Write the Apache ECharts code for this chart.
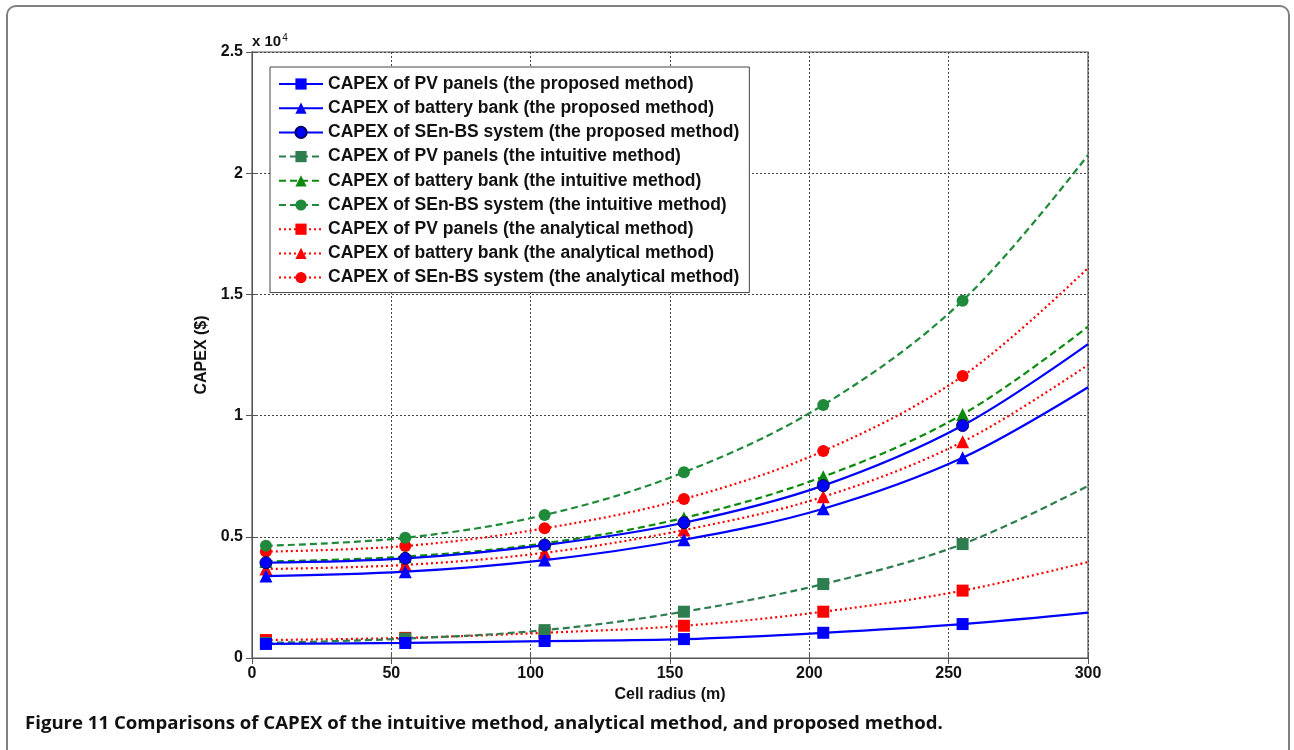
<!DOCTYPE html>
<html>
<head>
<meta charset="utf-8">
<script src="https://cdn.jsdelivr.net/npm/echarts@6/dist/echarts.min.js"></script>
<style>
html,body{margin:0;padding:0;background:#fff;}
#main{width:1294px;height:750px;}
</style>
</head>
<body>
<div id="main"></div>
<script>
var dom = document.getElementById("main");
var myChart = echarts.init(dom);

// cell radius (m)
var radius = [5, 55, 105, 155, 205, 255, 300];

// CAPEX ($)
var pvProposed = [580, 620, 700, 780, 1040, 1400, 1870];
var batProposed = [3380, 3560, 4040, 4880, 6160, 8260, 11170];
var sysProposed = [3930, 4110, 4660, 5580, 7110, 9590, 12950];
var pvIntuitive = [620, 800, 1150, 1910, 3050, 4700, 7100];
var batIntuitive = [3980, 4180, 4730, 5780, 7480, 10050, 13670];
var sysIntuitive = [4630, 4960, 5900, 7660, 10440, 14740, 20750];
var pvAnalytical = [740, 830, 1040, 1330, 1910, 2780, 3960];
var batAnalytical = [3670, 3840, 4340, 5280, 6650, 8920, 12090];
var sysAnalytical = [4390, 4620, 5350, 6560, 8540, 11630, 16090];

var names = [
    'CAPEX of PV panels (the proposed method)',
    'CAPEX of battery bank (the proposed method)',
    'CAPEX of SEn-BS system (the proposed method)',
    'CAPEX of PV panels (the intuitive method)',
    'CAPEX of battery bank (the intuitive method)',
    'CAPEX of SEn-BS system (the intuitive method)',
    'CAPEX of PV panels (the analytical method)',
    'CAPEX of battery bank (the analytical method)',
    'CAPEX of SEn-BS system (the analytical method)'
];
var values = [pvProposed, batProposed, sysProposed, pvIntuitive, batIntuitive, sysIntuitive, pvAnalytical, batAnalytical, sysAnalytical];
var colors = ['#0000ff', '#0000ff', '#0000ff', '#2e7d4f', '#0a8a0a', '#1f8a3a', '#ff0000', '#ff0000', '#ff0000'];
var symbols = ['rect', 'triangle', 'circle', 'rect', 'triangle', 'circle', 'rect', 'triangle', 'circle'];
var lineTypes = ['solid', 'solid', 'solid', [7, 4], [7, 4], [7, 4], [2, 3], [2, 3], [2, 3]];

function buildData(arr) {
    var out = [];
    for (var i = 0; i < arr.length; i++) {
        var p = {value: [radius[i], arr[i]]};
        if (radius[i] === 300) p.symbol = 'none'; // no marker at line end
        out.push(p);
    }
    return out;
}

var series = [];
for (var k = 0; k < names.length; k++) {
    series.push({
        name: names[k],
        type: 'line',
        smooth: 0.35,
        data: buildData(values[k]),
        symbol: symbols[k],
        symbolSize: symbols[k] === 'triangle' ? 13 : 12,
        showAllSymbol: true,
        z: 10 - k,
        itemStyle: {color: colors[k], borderColor: k === 2 ? '#000066' : colors[k], borderWidth: k === 2 ? 1 : 0},
        lineStyle: {color: colors[k], width: 2.2, type: lineTypes[k]},
        emphasis: {disabled: true}
    });
}

var tickFont = {color: '#111', fontSize: 16, fontWeight: 'bold', fontFamily: 'Liberation Sans, Arial'};
var nameFont = {color: '#111', fontSize: 16, fontWeight: 'bold', fontFamily: 'Liberation Sans, Arial'};

option = {
    animation: false,
    backgroundColor: '#fff',
    grid: {left: 252, right: 206, top: 52, bottom: 92, show: true, borderColor: '#555', borderWidth: 1.2},
    legend: {
        orient: 'vertical',
        left: 270,
        top: 67,
        padding: [7, 10, 5, 8],
        itemGap: 4.2,
        itemWidth: 44,
        itemHeight: 14,
        backgroundColor: '#fff',
        borderColor: '#444',
        borderWidth: 1,
        textStyle: {color: '#111', fontSize: 17.5, fontWeight: 'bold', fontFamily: 'Liberation Sans, Arial', lineHeight: 20},
        data: names
    },
    xAxis: [{
        type: 'value',
        min: 0, max: 300, interval: 50,
        name: 'Cell radius (m)',
        nameLocation: 'middle',
        nameGap: 29,
        nameTextStyle: nameFont,
        axisLine: {show: true, lineStyle: {color: '#555'}},
        axisTick: {inside: true, length: 6, lineStyle: {color: '#555'}},
        axisLabel: tickFont,
        splitLine: {show: true, lineStyle: {color: '#444', type: [2, 2], width: 1}}
    }, {
        type: 'value', position: 'top',
        min: 0, max: 300, interval: 50,
        axisLine: {show: true, lineStyle: {color: '#555'}},
        axisTick: {inside: true, length: 6, lineStyle: {color: '#555'}},
        axisLabel: {show: false},
        splitLine: {show: false}
    }],
    yAxis: [{
        type: 'value',
        min: 0, max: 25000, interval: 5000,
        name: 'CAPEX ($)',
        nameLocation: 'middle',
        nameGap: 42,
        nameTextStyle: nameFont,
        axisLine: {show: true, lineStyle: {color: '#555'}},
        axisTick: {inside: true, length: 6, lineStyle: {color: '#555'}},
        axisLabel: {
            color: '#111', fontSize: 16, fontWeight: 'bold', fontFamily: 'Liberation Sans, Arial', margin: 9,
            formatter: function (v) { return String(v / 10000); }
        },
        splitLine: {show: true, lineStyle: {color: '#444', type: [2, 2], width: 1}}
    }, {
        type: 'value', position: 'right',
        min: 0, max: 25000, interval: 5000,
        axisLine: {show: true, lineStyle: {color: '#555'}},
        axisTick: {inside: true, length: 6, lineStyle: {color: '#555'}},
        axisLabel: {show: false},
        splitLine: {show: false}
    }],
    graphic: [{
        type: 'rect',
        shape: {x: 7, y: 6, width: 1282, height: 800, r: 9},
        style: {fill: 'none', stroke: '#808080', lineWidth: 2},
        silent: true
    }, {
        type: 'text',
        left: 252, top: 33,
        style: {
            text: '{a|x 10}{b|4}',
            rich: {
                a: {fontSize: 15, fontWeight: 'bold', fontFamily: 'Liberation Sans, Arial', fill: '#111'},
                b: {fontSize: 10, fontFamily: 'Liberation Sans, Arial', fill: '#111', verticalAlign: 'top', padding: [0, 0, 8, 1]}
            }
        }
    }, {
        type: 'text',
        left: 25, top: 714,
        style: {
            text: 'Figure 11 Comparisons of CAPEX of the intuitive method, analytical method, and proposed method.',
            font: 'bold 18.6px "Open Sans", sans-serif',
            fill: '#111'
        }
    }],
    series: series
};

if (option && typeof option === "object") {
    myChart.setOption(option, true);
}
window.onresize = function () {
    myChart.resize();
};
</script>
</body>
</html>
